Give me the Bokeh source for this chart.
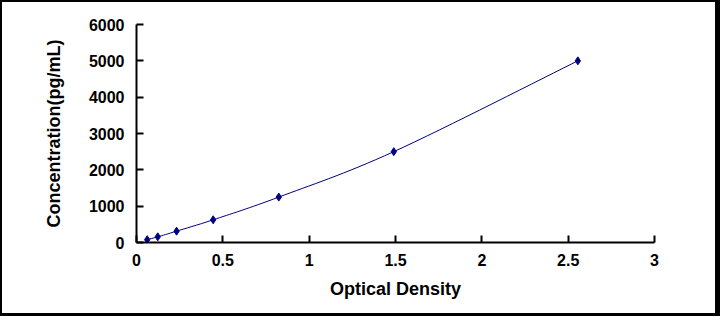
from bokeh.plotting import figure
from bokeh.models import Range1d, FixedTicker
from bokeh.embed import file_html
from bokeh.resources import INLINE

# Data
optical_density = [0.062, 0.123, 0.232, 0.444, 0.824, 1.490, 2.556]
concentration = [78, 156, 312, 625, 1250, 2500, 5000]
x_ticks = [0, 0.5, 1, 1.5, 2, 2.5, 3]
y_ticks = [0, 1000, 2000, 3000, 4000, 5000, 6000]

NAVY = "#000080"
FONT = "Liberation Sans"

W, H = 720, 316
p = figure(width=W, height=H, output_backend="svg", toolbar_location=None,
           x_range=Range1d(0, 3), y_range=Range1d(0, 6000),
           min_border_left=134, min_border_right=68,
           min_border_top=22, min_border_bottom=76)
p.styles = {"border-style": "solid", "border-color": "black",
            "border-width": "2px 5px 3px 2px", "box-sizing": "border-box"}
p.outline_line_color = None
p.grid.visible = False
p.background_fill_color = "white"
p.border_fill_color = "white"

for ax in (p.xaxis[0], p.yaxis[0]):
    ax.axis_line_width = 2
    ax.axis_line_color = "black"
    ax.major_tick_line_width = 2
    ax.major_tick_line_color = "black"
    ax.major_tick_in = 7
    ax.major_tick_out = 0
    ax.minor_tick_line_color = None
    ax.major_label_text_font = FONT
    ax.major_label_text_font_style = "bold"
    ax.major_label_text_font_size = "16px"
    ax.major_label_text_color = "black"
    ax.axis_label_text_font = FONT
    ax.axis_label_text_font_style = "bold"
    ax.axis_label_text_font_size = "18px"
    ax.axis_label_text_color = "black"

p.xaxis.ticker = FixedTicker(ticks=x_ticks)
p.yaxis.ticker = FixedTicker(ticks=y_ticks)
p.xaxis.major_label_overrides = {0: "0", 1: "1", 2: "2", 3: "3"}
p.xaxis.axis_label = "Optical Density"
p.yaxis.axis_label = "Concentration(pg/mL)"
p.xaxis.major_label_standoff = 11
p.yaxis.major_label_standoff = 12
p.xaxis.axis_label_standoff = 10
p.yaxis.axis_label_standoff = 22

# Smoothed curve through the points (Catmull-Rom expressed as cubic Beziers)
n = len(optical_density)
x0, y0, x1, y1, cx0, cy0, cx1, cy1 = [], [], [], [], [], [], [], []
for i in range(n - 1):
    pa = (optical_density[max(i - 1, 0)], concentration[max(i - 1, 0)])
    pb = (optical_density[i], concentration[i])
    pc = (optical_density[i + 1], concentration[i + 1])
    pd = (optical_density[min(i + 2, n - 1)], concentration[min(i + 2, n - 1)])
    x0.append(pb[0]); y0.append(pb[1]); x1.append(pc[0]); y1.append(pc[1])
    cx0.append(pb[0] + (pc[0] - pa[0]) / 6); cy0.append(pb[1] + (pc[1] - pa[1]) / 6)
    cx1.append(pc[0] - (pd[0] - pb[0]) / 6); cy1.append(pc[1] - (pd[1] - pb[1]) / 6)
p.bezier(x0=x0, y0=y0, x1=x1, y1=y1, cx0=cx0, cy0=cy0, cx1=cx1, cy1=cy1,
         line_color=NAVY, line_width=1)

p.scatter(optical_density, concentration, marker="diamond", size=8,
          fill_color=NAVY, line_color=NAVY)

open("out.html", "w").write(file_html(p, INLINE))
